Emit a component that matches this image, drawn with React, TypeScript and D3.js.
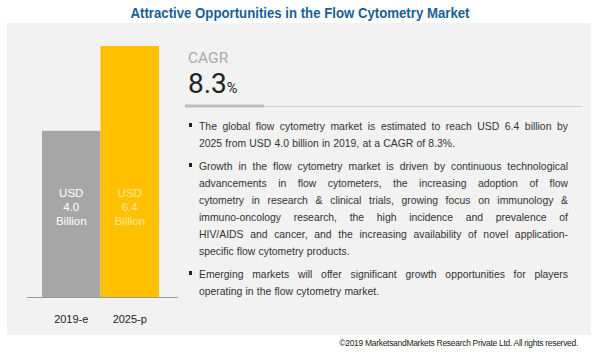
import React, { useEffect, useRef } from 'react';
import * as d3 from 'd3';

const W = 600;
const H = 358;

const title = 'Attractive Opportunities in the Flow Cytometry Market';
const years = ['2019-e', '2025-p'];
const values = [4.0, 6.4];
const valueLabels = [['USD', '4.0', 'Billion'], ['USD', '6.4', 'Billion']];
const barColors = ['#a6a6a6', '#ffc000'];
const labelColors = ['#ffffff', '#ffe699'];
const cagrLabel = 'CAGR';
const cagrValue = '8.3';
const bullets = [
  [
    'The global flow cytometry market is estimated to reach USD 6.4 billion by',
    '2025 from USD 4.0 billion in 2019, at a CAGR of 8.3%.',
  ],
  [
    'Growth in the flow cytometry market is driven by continuous technological',
    'advancements in flow cytometers, the increasing adoption of flow',
    'cytometry in research & clinical trials, growing focus on immunology &',
    'immuno-oncology research, the high incidence and prevalence of',
    'HIV/AIDS and cancer, and the increasing availability of novel application-',
    'specific flow cytometry products.',
  ],
  [
    'Emerging markets will offer significant growth opportunities for players',
    'operating in the flow cytometry market.',
  ],
];
const footer = '\u00a92019 MarketsandMarkets Research Private Ltd. All rights reserved.';

const App = () => {
  const ref = useRef<SVGSVGElement>(null);

  useEffect(() => {
    const svg = d3.select(ref.current);
    svg.selectAll('*').remove();

    svg.append('rect').attr('width', W).attr('height', H).attr('fill', '#fff');

    // panel
    svg.append('rect')
      .attr('x', 7).attr('y', 23).attr('width', 584).attr('height', 312)
      .attr('fill', '#f2f2f2');

    svg.append('text')
      .attr('x', W / 2).attr('y', 18)
      .attr('text-anchor', 'middle')
      .attr('font-family', '"Liberation Sans Narrow", "Arial Narrow", "Liberation Sans", sans-serif')
      .attr('font-weight', 'bold')
      .attr('font-size', 14.5)
      .attr('fill', '#1a5f98')
      .attr('textLength', 339)
      .attr('lengthAdjust', 'spacingAndGlyphs')
      .text(title);

    // bars
    const x = d3.scaleBand().domain(years).range([42, 159]).padding(0);
    const y = d3.scaleLinear().domain([-0.7, 6.4]).range([297, 46]);

    svg.append('g').selectAll('rect')
      .data(values)
      .join('rect')
      .attr('x', (d, i) => x(years[i])!)
      .attr('width', x.bandwidth())
      .attr('y', d => y(d))
      .attr('height', d => y.range()[0] - y(d))
      .attr('fill', (d, i) => barColors[i]);

    const lab = svg.append('g')
      .attr('font-family', '"Liberation Sans", Arial, sans-serif')
      .attr('font-size', 11.5)
      .attr('text-anchor', 'middle');
    valueLabels.forEach((lines, i) => {
      lines.forEach((t, j) => {
        lab.append('text')
          .attr('x', x(years[i])! + x.bandwidth() / 2)
          .attr('y', 197 + j * 14)
          .attr('fill', labelColors[i])
          .text(t);
      });
    });

    svg.append('line')
      .attr('x1', 27).attr('x2', 178).attr('y1', 297.5).attr('y2', 297.5)
      .attr('stroke', '#999').attr('stroke-width', 1);

    const axis = svg.append('g')
      .attr('transform', 'translate(0,297)')
      .call(d3.axisBottom(x).tickSize(0).tickPadding(18));
    axis.select('.domain').remove();
    axis.selectAll('text')
      .attr('font-family', '"Liberation Sans", Arial, sans-serif')
      .attr('font-size', 11)
      .attr('fill', '#222');

    // CAGR block
    svg.append('text')
      .attr('x', 188).attr('y', 63)
      .attr('font-family', 'Roboto, "Liberation Sans", sans-serif')
      .attr('font-size', 15.5)
      .attr('fill', '#aaa')
      .text(cagrLabel);
    const big = svg.append('text')
      .attr('x', 188).attr('y', 93)
      .attr('font-family', 'Roboto, "Liberation Sans", sans-serif')
      .attr('fill', '#222');
    big.append('tspan').attr('font-size', 28).text(cagrValue);
    big.append('tspan').attr('font-size', 14.5).text('%');

    svg.append('line')
      .attr('x1', 185).attr('x2', 582).attr('y1', 106.5).attr('y2', 106.5)
      .attr('stroke', '#d0d0d0').attr('stroke-width', 1);
    svg.append('line')
      .attr('x1', 185).attr('x2', 264).attr('y1', 106).attr('y2', 106)
      .attr('stroke', '#bdbdbd').attr('stroke-width', 3);

    // bullets, justified
    const left = 199;
    const right = 568;
    const lineH = 17;
    const body = svg.append('g')
      .attr('font-family', '"Liberation Sans", Arial, sans-serif')
      .attr('font-size', 10.4)
      .attr('fill', '#333');
    let cy = 130;
    bullets.forEach(lines => {
      body.append('rect')
        .attr('x', 189).attr('y', cy - 7).attr('width', 3).attr('height', 4)
        .attr('fill', '#222');
      lines.forEach((line, li) => {
        const last = li === lines.length - 1;
        const words = line.split(' ');
        const t = body.append('text').attr('y', cy);
        const spans = words.map(w => t.append('tspan').text(w));
        const widths = spans.map(s => (s.node() as SVGTSpanElement).getComputedTextLength());
        const total = d3.sum(widths);
        const gap = last ? 3.2 : (right - left - total) / (words.length - 1);
        let cx = left;
        spans.forEach((s, k) => {
          s.attr('x', cx);
          cx += widths[k] + gap;
        });
        cy += lineH;
      });
      cy += 6;
    });

    svg.append('text')
      .attr('x', 578).attr('y', 346)
      .attr('text-anchor', 'end')
      .attr('font-family', '"Liberation Sans Narrow", "Arial Narrow", "Liberation Sans", sans-serif')
      .attr('font-size', 8.5)
      .attr('letter-spacing', -0.3)
      .attr('fill', '#222')
      .text(footer);
  }, []);

  return (
    <svg
      ref={ref}
      width={W}
      height={H}
      style={{ position: 'absolute', left: 0, top: 0 }}
    />
  );
};

export default App;
